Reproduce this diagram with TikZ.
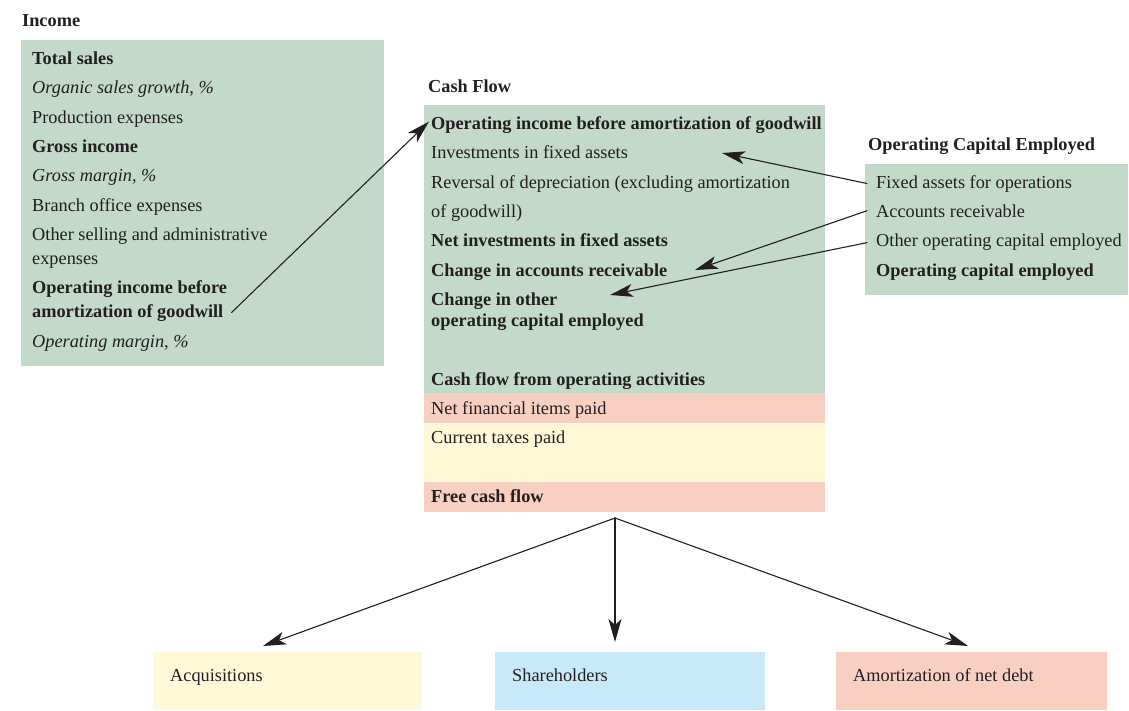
\documentclass[tikz,border=0pt]{standalone}
\usepackage{fontspec}
\setmainfont{Liberation Serif}
\usepackage{tikz}
\usetikzlibrary{arrows.meta, calc, positioning}
\usepackage{xcolor}
\definecolor{panelgreen}{RGB}{195,217,202}
\definecolor{panelpink}{RGB}{248,208,194}
\definecolor{panelyellow}{RGB}{255,249,216}
\definecolor{panelblue}{RGB}{199,233,249}
\definecolor{inkgray}{RGB}{35,31,32}
\newcommand{\rowsize}{\fontsize{18.3}{22}\selectfont}

\tikzset{
    item/.style={anchor=base west, inner sep=0pt, text=inkgray, font=\rowsize},
    itemb/.style={item, font=\rowsize\bfseries},
    itemi/.style={item, font=\rowsize\itshape},
    link/.style={-{Stealth[length=23pt, width=13pt, inset=6pt]}, line width=1.1pt, inkgray}
}

\begin{document}
\begin{tikzpicture}[x=1pt, y=-1pt, line cap=round, line join=round]
    \useasboundingbox (0,0) rectangle (1129,710);

    	% panels
    	\fill [panelgreen] (21,40) rectangle (384,366);
    	\fill [panelgreen] (424,105) rectangle (825,393);
    	\fill [panelpink] (424,393) rectangle (825,423);
    	\fill [panelyellow] (424,423) rectangle (825,482);
    	\fill [panelpink] (424,482) rectangle (825,512);
    	\fill [panelgreen] (865,164) rectangle (1128,295);
    	\fill [panelyellow] (153,652) rectangle (422,710);
    	\fill [panelblue] (495,652) rectangle (765,710);
    	\fill [panelpink] (836,652) rectangle (1107,710);

    	% income
    	\node [itemb] (inctitle) at (22,26) {Income};
    	\node [itemb] (incsales) at (32,64) {Total sales};
    	\node [itemi] (incgrowth) at (32,93) {Organic sales growth, \%};
    	\node [item] (incprod) at (32,123) {Production expenses};
    	\node [itemb] (incgross) at (32,152) {Gross income};
    	\node [itemi] (incmargin) at (32,181) {Gross margin, \%};
    	\node [item] (incbranch) at (32,211) {Branch office expenses};
    	\node [item] (incother) at (32,240) {Other selling and administrative};
    	\node [item] (incother2) at (32,264) {expenses};
    	\node [itemb] (incop) at (32,293) {Operating income before};
    	\node [itemb] (incop2) at (32,317) {amortization of goodwill};
    	\node [itemi] (incopmargin) at (32,347) {Operating margin, \%};

    	% cash flow
    	\node [itemb] (cftitle) at (428,92) {Cash Flow};
    	\node [itemb] (cfop) at (431,129) {Operating income before amortization of goodwill};
    	\node [item] (cfinv) at (431,158) {Investments in fixed assets};
    	\node [item] (cfrev) at (431,188) {Reversal of depreciation (excluding amortization};
    	\node [item] (cfrev2) at (431,217) {of goodwill)};
    	\node [itemb] (cfnet) at (431,246) {Net investments in fixed assets};
    	\node [itemb] (cfrec) at (431,276) {Change in accounts receivable};
    	\node [itemb] (cfother) at (431,305) {Change in other};
    	\node [itemb] (cfother2) at (431,326) {operating capital employed};
    	\node [itemb] (cfopact) at (431,385) {Cash flow from operating activities};
    	\node [item] (cffin) at (431,414) {Net financial items paid};
    	\node [item] (cftax) at (431,443) {Current taxes paid};
    	\node [itemb] (cffree) at (431,502) {Free cash flow};

    	% operating capital employed
    	\node [itemb] (ocetitle) at (868,150) {Operating Capital Employed};
    	\node [item] (oceassets) at (876,188) {Fixed assets for operations};
    	\node [item] (ocerec) at (876,217) {Accounts receivable};
    	\node [item] (oceother) at (876,246) {Other operating capital employed};
    	\node [itemb] (ocetotal) at (876,276) {Operating capital employed};

    	% uses of free cash flow
    	\node [item] (useacq) at (170,681) {Acquisitions};
    	\node [item] (useshare) at (512,681) {Shareholders};
    	\node [item] (usedebt) at (853,681) {Amortization of net debt};

    	\coordinate (split) at (615,518);

		\draw [link] ([xshift=8pt]incop2.east) -- ([xshift=-2pt, yshift=3pt]cfop.west);
		\draw [link] ([xshift=-9pt]oceassets.west) -- ([shift={(291,-5)}]cfinv.base west);
		\draw [link] ([xshift=-9pt]ocerec.west) -- ([shift={(264,-6)}]cfrec.base west);
		\draw [link] ([xshift=-9pt, yshift=-1pt]oceother.west) -- ([shift={(179,-10)}]cfother.base west);

		\draw [link] (split) -- ($(useacq.base west)+(93,-35)$);
		\draw [link] (split) -- ($(useshare.base west)+(103,-39)$);
		\draw [link] (split) -- ($(usedebt.base west)+(115,-35)$);
    \end{tikzpicture}
\end{document}
